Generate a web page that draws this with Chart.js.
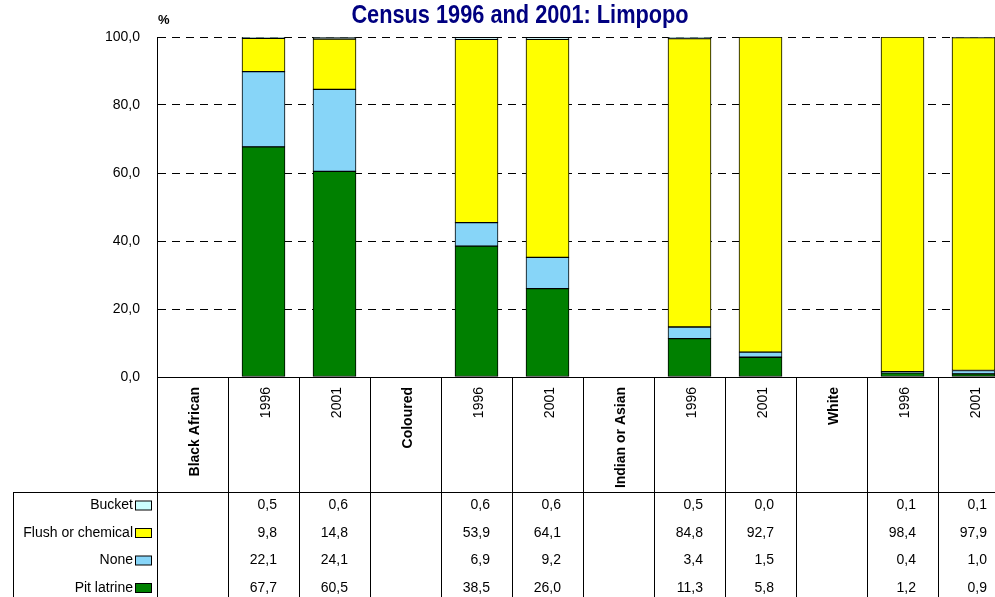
<!DOCTYPE html>
<html>
<head>
<meta charset="utf-8">
<title>Census 1996 and 2001: Limpopo</title>
<script src="https://cdn.jsdelivr.net/npm/chart.js@4/dist/chart.umd.min.js"></script>
<style>
  html, body { margin: 0; padding: 0; background: #fff; overflow: hidden; }
  #wrap { position: relative; width: 995px; height: 597px; overflow: hidden; }
  #title {
    position: absolute; left: 0; top: 0; width: 1040px; text-align: center;
    font: bold 25px "Liberation Sans Narrow", "Arial Narrow", "Liberation Sans", sans-serif;
    color: #000080; line-height: 28px;
    transform: scaleX(0.87); transform-origin: 520px 0;
  }
  #unit {
    position: absolute; left: 158px; top: 12px;
    font: bold 13px "Liberation Sans", Arial, sans-serif; color: #000;
  }
  canvas { position: absolute; left: 0; top: 0; }
</style>
</head>
<body>
<div id="wrap">
  <canvas id="chart" width="1010" height="597"></canvas>
  <div id="title">Census 1996 and 2001: Limpopo</div>
  <div id="unit">%</div>
</div>
<script>
// ===============================
// Data
// ===============================
const categories = ["Black African", "1996", "2001", "Coloured", "1996", "2001",
                    "Indian or Asian", "1996", "2001", "White", "1996", "2001"];
const groups = ["Black African", "Coloured", "Indian or Asian", "White"];

const pitLatrine = [null, 67.7, 60.5, null, 38.5, 26.0, null, 11.3, 5.8, null, 1.2, 0.9];
const none       = [null, 22.1, 24.1, null, 6.9, 9.2, null, 3.4, 1.5, null, 0.4, 1.0];
const flush      = [null, 9.8, 14.8, null, 53.9, 64.1, null, 84.8, 92.7, null, 98.4, 97.9];
const bucket     = [null, 0.5, 0.6, null, 0.6, 0.6, null, 0.5, 0.0, null, 0.1, 0.1];

const yTicks = [0, 20, 40, 60, 80, 100];

const fmt = v => v.toFixed(1).replace(".", ",");

// ===============================
// Category header + data table under the plot
// ===============================
const tablePlugin = {
  id: "dataTable",
  afterDraw(chart) {
    const ctx = chart.ctx;
    const x = chart.scales.x;
    const area = chart.chartArea;
    const H = chart.height;
    const tableTop = 492;
    const rowY = [505.5, 533, 560.5, 588];

    ctx.save();
    ctx.strokeStyle = "#000";
    ctx.lineWidth = 1;

    // column separators
    for (let i = 0; i <= categories.length; i++) {
      const px = Math.round(x.getPixelForValue(i - 0.5)) + 0.5;
      ctx.beginPath();
      ctx.moveTo(px, area.bottom);
      ctx.lineTo(px, H);
      ctx.stroke();
    }
    // table top and left border
    ctx.beginPath();
    ctx.moveTo(13.5, tableTop + 0.5);
    ctx.lineTo(chart.width, tableTop + 0.5);
    ctx.moveTo(13.5, tableTop);
    ctx.lineTo(13.5, H);
    ctx.stroke();

    // category labels, rotated
    ctx.fillStyle = "#000";
    ctx.textAlign = "right";
    ctx.textBaseline = "middle";
    categories.forEach((c, i) => {
      const cx = x.getPixelForValue(i) + 3;
      ctx.save();
      ctx.translate(cx, 387);
      ctx.rotate(-Math.PI / 2);
      ctx.font = (groups.includes(c) ? "bold " : "") + "14px 'Liberation Sans', Arial, sans-serif";
      ctx.fillText(c, 0, 0);
      ctx.restore();
    });

    // rows: top to bottom = last dataset first
    const ds = chart.data.datasets.slice().reverse();
    ctx.font = "14px 'Liberation Sans', Arial, sans-serif";
    ds.forEach((d, r) => {
      const y = rowY[r];
      ctx.fillStyle = "#000";
      ctx.textAlign = "right";
      ctx.fillText(d.label, 133, y);
      ctx.fillStyle = d.backgroundColor;
      ctx.fillRect(135.5, y - 4.5, 16, 9);
      ctx.strokeRect(135.5, y - 4.5, 16, 9);
      ctx.fillStyle = "#000";
      d.data.forEach((v, i) => {
        if (v === null) return;
        ctx.fillText(fmt(v), x.getPixelForValue(i + 0.5) - 22, y);
      });
    });
    ctx.restore();
  }
};

// ===============================
// Chart
// ===============================
const bar = (label, data, color) => ({
  label: label,
  data: data,
  backgroundColor: color,
  borderColor: "#000",
  borderWidth: 1,
  borderSkipped: false,
  barThickness: 43
});

new Chart(document.getElementById("chart"), {
  type: "bar",
  data: {
    labels: categories,
    datasets: [
      bar("Pit latrine", pitLatrine, "#008000"),
      bar("None", none, "#87D5F8"),
      bar("Flush or chemical", flush, "#FFFF00"),
      bar("Bucket", bucket, "#CCFFFF")
    ]
  },
  options: {
    responsive: false,
    animation: false,
    devicePixelRatio: 1,
    layout: { padding: { top: 37, bottom: 220, left: 0, right: 1 } },
    plugins: {
      legend: { display: false },
      title: { display: false },
      tooltip: { enabled: false }
    },
    scales: {
      x: {
        stacked: true,
        ticks: { display: false },
        grid: { display: false },
        border: { display: true, color: "#000", width: 1 },
        afterFit: s => { s.height = 0; }
      },
      y: {
        stacked: true,
        min: 0,
        max: 100,
        afterBuildTicks: s => { s.ticks = yTicks.map(v => ({ value: v })); },
        afterFit: s => { s.width = 157; },
        ticks: {
          padding: 17,
          color: "#000",
          font: { family: "'Liberation Sans', Arial, sans-serif", size: 14 },
          callback: v => fmt(v)
        },
        grid: { color: "#000", lineWidth: 1, drawTicks: false },
        border: { display: true, color: "#000", width: 1, dash: [8, 6] }
      }
    }
  },
  plugins: [tablePlugin]
});
</script>
</body>
</html>
